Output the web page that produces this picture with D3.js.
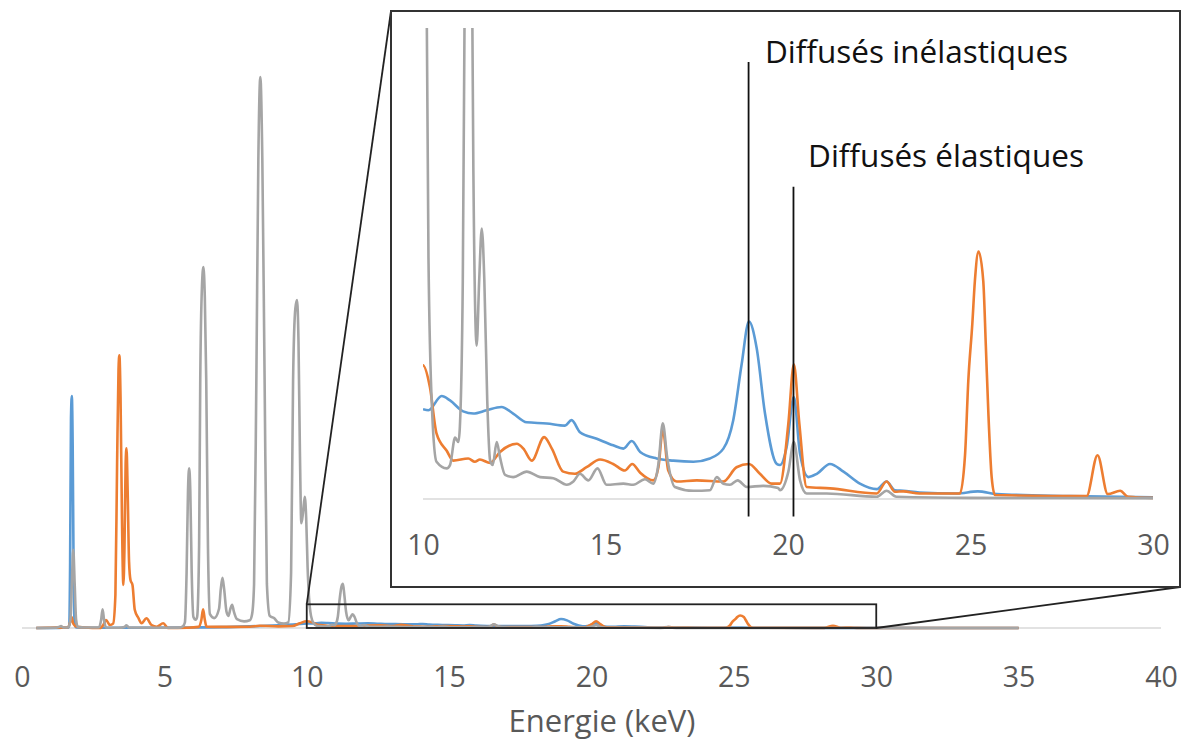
<!DOCTYPE html>
<html>
<head>
<meta charset="utf-8">
<script src="https://cdn.jsdelivr.net/npm/d3@7"></script>
<style>
  body { margin: 0; background: #fff; }
  svg { display: block; }
  text { font-family: 'Open Sans', sans-serif; }
</style>
</head>
<body>
<svg id="chart" width="1182" height="740"></svg>
<script>
//
// Data (keV, counts)
//

var bleu = [
  [0.5,0],[1.3,0.3],[1.62,0.5],[1.66,5],[1.69,120],[1.72,380],[1.75,421],[1.78,330],[1.81,120],[1.85,8],[1.9,1],
  [2.5,0.5],[4,0.5],[6,1],[7,1.5],[8,3],[9,5],[9.6,6.5],
  [10.0,8.2],[10.15,8.1],[10.51,9.4],[10.74,9.0],[11.1,8.0],[11.38,7.8],[11.74,8.1],[12.15,8.4],[12.47,7.8],
  [12.84,7.0],[13.39,6.9],[13.89,6.7],[14.07,7.2],[14.3,6.1],[14.76,5.5],[15.21,4.9],[15.49,4.6],[15.72,5.3],
  [15.95,4.3],[16.4,3.7],[16.86,3.5],[17.41,3.4],[17.86,3.7],[18.23,4.6],[18.5,7.2],[18.73,12.3],[18.93,16.2],
  [19.14,13.8],[19.37,7.8],[19.69,3.2],[19.78,3.1],[19.96,4.7],[20.16,9.3],[20.33,4.1],[20.56,2.0],[20.79,2.3],
  [21.15,3.2],[21.52,2.5],[21.97,1.4],[22.43,0.9],[22.7,1.6],[22.93,0.8],[23.16,0.75],[23.6,0.6],[24.62,0.5],
  [25.2,0.7],[25.72,0.45],[27.73,0.27],[30,0.15],[35,0.1]
]

var orange = [
  [0.5,0],[1.0,0.5],[1.6,1],[1.7,12],[1.74,20],[1.8,8],[1.92,2.4],[2.2,1],[2.74,0],[2.86,6],[2.95,14.5],[3.09,5.4],
  [3.2,8],[3.28,60],[3.34,300],[3.39,470],[3.42,495],[3.46,420],[3.51,200],[3.56,78],[3.6,150],[3.64,300],
  [3.67,326],[3.71,250],[3.76,120],[3.81,87],[3.88,78],[3.96,33],[4.08,19],[4.2,8.5],[4.37,17.6],[4.55,5.4],
  [4.73,2.4],[4.96,8.5],[5.13,0],[5.8,0.5],[6.2,2],[6.3,15],[6.36,34],[6.42,15],[6.48,2.4],[7,2],[8,2.4],
  [8.35,4.2],[9.0,3],[9.5,3.6],[9.75,8.5],
  [10.0,12.2],[10.19,10.2],[10.37,6.0],[10.65,4.4],[10.83,3.5],[11.24,3.7],[11.42,3.4],[11.56,3.6],[11.84,3.3],
  [12.11,4.3],[12.57,5.05],[12.75,4.6],[12.98,3.5],[13.32,5.65],[13.53,4.6],[13.84,2.5],[14.16,2.3],[14.48,2.9],
  [14.85,3.6],[15.21,3.2],[15.53,2.6],[15.73,3.2],[15.95,2.4],[16.31,1.7],[16.45,2.9],[16.57,6.3],[16.72,2.6],
  [16.95,1.6],[17.5,1.7],[18.23,1.6],[18.59,2.9],[18.93,3.2],[19.23,2.3],[19.55,1.4],[19.78,1.4],[20.01,6.9],
  [20.16,12.3],[20.31,6.9],[20.51,1.1],[21.15,0.97],[22.43,0.5],[22.7,1.6],[22.93,0.66],[23.16,0.7],[23.6,0.5],
  [24.71,0.5],[24.85,4],[24.94,10.8],[25.05,16],[25.12,19.9],[25.22,22.6],[25.35,19.9],[25.42,14],[25.49,7.8],
  [25.58,2],[25.67,0.36],[28.18,0.27],[28.48,4.0],[28.76,0.45],[29.1,0.75],[29.32,0.2],[30,0.1],[35,0.05]
]

var gris = [
  [0.5,0],[1.2,0.5],[1.3,2],[1.37,3.6],[1.44,1],[1.62,1],[1.7,15],[1.75,80],[1.8,142],[1.85,80],[1.9,15],[1.96,2],
  [2.2,1],[2.7,1],[2.78,15],[2.83,34],[2.88,15],[2.95,1],[3.4,0.5],[3.6,2],[3.67,5],[3.75,1],[5.5,0.5],[5.65,3],
  [5.72,10],[5.78,100],[5.83,250],[5.87,290],[5.91,250],[5.96,100],[6.02,20],[6.1,15],[6.15,20],[6.22,150],
  [6.26,450],[6.32,620],[6.37,655],[6.42,600],[6.47,450],[6.53,150],[6.6,25],[6.75,18],[6.92,35],[6.98,70],
  [7.04,91],[7.1,70],[7.18,30],[7.25,22],[7.32,35],[7.38,42],[7.44,30],[7.55,16],[7.8,12],[8.0,14],[8.08,25],
  [8.15,80],[8.23,450],[8.3,850],[8.37,1000],[8.44,850],[8.52,450],[8.6,80],[8.7,22],[8.85,18],[9.0,10],[9.2,8],
  [9.35,10],[9.45,100],[9.52,450],[9.6,580],[9.66,595],[9.71,520],[9.76,320],[9.81,190],[9.87,210],[9.93,238],
  [9.98,200],[10.03,110],[10.08,55],[10.15,22],[10.25,8],
  [10.37,3.4],[10.65,2.8],[10.74,3.1],[10.88,5.6],[10.97,5.2],[11.01,6.6],[11.09,19.9],[11.15,50],[11.22,75],
  [11.27,80],[11.32,60],[11.38,30],[11.47,14],[11.54,20],[11.61,24.7],[11.68,20],[11.76,9],[11.84,3.5],
  [11.91,3.1],[12.02,5.2],[12.11,3.8],[12.25,2.2],[12.47,2.0],[12.84,2.5],[13.21,2.0],[13.57,1.9],[13.94,1.3],
  [14.12,1.6],[14.3,2.3],[14.53,1.7],[14.78,2.8],[15.03,1.3],[15.49,1.4],[15.76,1.3],[16.08,1.8],[16.31,1.4],
  [16.45,3.2],[16.57,6.9],[16.69,3.8],[16.9,1.1],[17.41,0.75],[17.86,0.8],[18.05,2.0],[18.23,1.4],[18.41,1.3],
  [18.62,1.7],[18.87,1.1],[19.32,1.2],[19.73,1.0],[19.78,0.8],[20.01,2.5],[20.16,5.2],[20.33,1.7],[20.51,0.5],
  [21.06,0.5],[22.43,0.2],[22.7,0.75],[22.97,0.2],[25,0.1],[30,0.08],[35,0.05]
]

var mainTicks = [0, 5, 10, 15, 20, 25, 30, 35, 40]
var insetTicks = [10, 15, 20, 25, 30]
var zoomRange = [10, 30]      // keV window shown in the inset
var zoomMax = 43              // counts at top of the inset

var annotLabels = ['Diffusés inélastiques', 'Diffusés élastiques']
var annotKev = [18.92, 20.15]
var annotTop = [39.9, 28.5]
var annotBottom = -1.6
var annotLabelKev = [19.37, 20.55]
var annotLabelVal = [39.8, 30.3]

//
// Styles
//

var colorBleu = '#5B9BD5'
var colorOrange = '#ED7D31'
var colorGris = '#A5A5A5'
var colorAxis = '#D9D9D9'
var colorText = '#595959'

var series = [
  { data: bleu, color: colorBleu },
  { data: orange, color: colorOrange },
  { data: gris, color: colorGris }
]

//
// Scales
//

var svg = d3.select('#chart')

var x = d3.scaleLinear().domain([0, 40]).range([22, 1161])
var y = d3.scaleLinear().domain([0, 1000]).range([628, 77])

var insetBox = { x0: 391, y0: 11, x1: 1180, y1: 587 }
var xi = d3.scaleLinear().domain(zoomRange).range([423, 1153])
var yi = d3.scaleLinear().domain([0, zoomMax]).range([499, 28])

var line = d3.line().x(function(d) { return x(d[0]) }).y(function(d) { return y(d[1]) }).curve(d3.curveMonotoneX)
var lineInset = d3.line().x(function(d) { return xi(d[0]) }).y(function(d) { return yi(d[1]) }).curve(d3.curveMonotoneX)

//
// Main chart
//

svg.append('line')
  .attr('x1', x(0)).attr('x2', x(40))
  .attr('y1', y(0)).attr('y2', y(0))
  .attr('stroke', colorAxis).attr('stroke-width', 1.5)

series.forEach(function(s) {
  svg.append('path')
    .datum(s.data)
    .attr('d', line)
    .attr('fill', 'none')
    .attr('stroke', s.color)
    .attr('stroke-width', 2.6)
    .attr('stroke-linejoin', 'round')
})

var axisMain = svg.append('g')
  .attr('transform', 'translate(0,' + y(0) + ')')
  .call(d3.axisBottom(x).tickValues(mainTicks).tickSize(0).tickPadding(39))
axisMain.select('.domain').remove()
axisMain.selectAll('text')
  .attr('font-size', 28.5).attr('fill', colorText)
  .style('font-family', "'Open Sans', sans-serif")

svg.append('text')
  .attr('x', 602).attr('y', 732)
  .attr('text-anchor', 'middle')
  .attr('font-size', 31)
  .attr('fill', colorText)
  .text('Energie (keV)')

// zoom window + connecting lines
svg.append('rect')
  .attr('x', x(zoomRange[0])).attr('y', y(zoomMax))
  .attr('width', x(zoomRange[1]) - x(zoomRange[0]))
  .attr('height', y(0) - y(zoomMax))
  .attr('fill', 'none').attr('stroke', '#222').attr('stroke-width', 1.8)

svg.append('line')
  .attr('x1', x(zoomRange[0])).attr('y1', y(zoomMax))
  .attr('x2', insetBox.x0).attr('y2', insetBox.y0)
  .attr('stroke', '#222').attr('stroke-width', 1.8)

svg.append('line')
  .attr('x1', x(zoomRange[1])).attr('y1', y(0))
  .attr('x2', insetBox.x1).attr('y2', insetBox.y1)
  .attr('stroke', '#222').attr('stroke-width', 1.8)

//
// Inset
//

svg.append('rect')
  .attr('x', insetBox.x0).attr('y', insetBox.y0)
  .attr('width', insetBox.x1 - insetBox.x0)
  .attr('height', insetBox.y1 - insetBox.y0)
  .attr('fill', '#fff').attr('stroke', '#333').attr('stroke-width', 2)

svg.append('clipPath').attr('id', 'clipInset')
  .append('rect')
  .attr('x', xi(zoomRange[0])).attr('y', yi(zoomMax))
  .attr('width', xi(zoomRange[1]) - xi(zoomRange[0]))
  .attr('height', yi(0) - yi(zoomMax) + 6)

svg.append('line')
  .attr('x1', xi(zoomRange[0])).attr('x2', xi(zoomRange[1]))
  .attr('y1', yi(0)).attr('y2', yi(0))
  .attr('stroke', colorAxis).attr('stroke-width', 1.5)

var gInset = svg.append('g').attr('clip-path', 'url(#clipInset)')
series.forEach(function(s) {
  var sub = s.data.filter(function(d) { return d[0] >= zoomRange[0] - 0.3 && d[0] <= zoomRange[1] + 0.3 })
  gInset.append('path')
    .datum(sub)
    .attr('d', lineInset)
    .attr('fill', 'none')
    .attr('stroke', s.color)
    .attr('stroke-width', 2.6)
    .attr('stroke-linejoin', 'round')
})

var axisInset = svg.append('g')
  .attr('transform', 'translate(0,' + yi(0) + ')')
  .call(d3.axisBottom(xi).tickValues(insetTicks).tickSize(0).tickPadding(36))
axisInset.select('.domain').remove()
axisInset.selectAll('text')
  .attr('font-size', 28.5).attr('fill', colorText)
  .style('font-family', "'Open Sans', sans-serif")

// annotations
for (var i = 0; i < annotLabels.length; i++) {
  svg.append('line')
    .attr('x1', xi(annotKev[i])).attr('x2', xi(annotKev[i]))
    .attr('y1', yi(annotTop[i])).attr('y2', yi(annotBottom))
    .attr('stroke', '#111').attr('stroke-width', 1.8)
  svg.append('text')
    .attr('x', xi(annotLabelKev[i])).attr('y', yi(annotLabelVal[i]))
    .attr('font-size', 31.5)
    .attr('fill', '#111')
    .text(annotLabels[i])
}
</script>
</body>
</html>
